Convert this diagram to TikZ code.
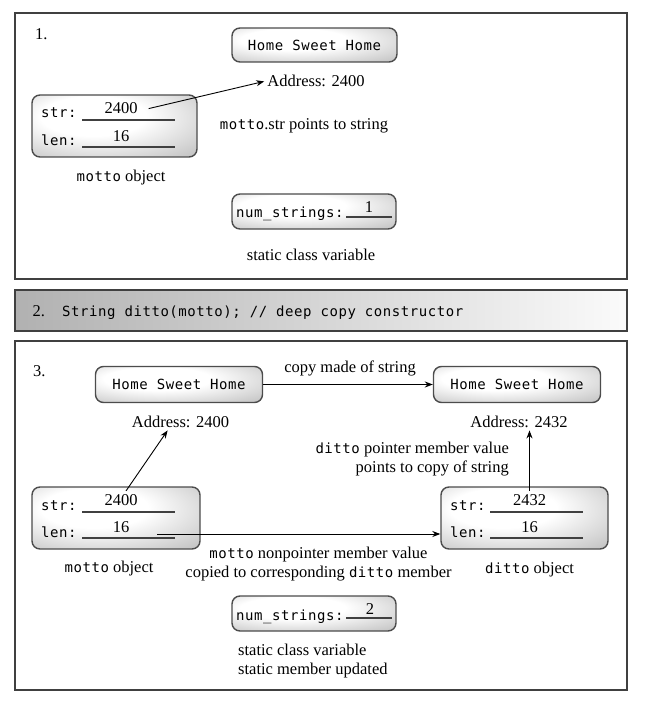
\documentclass[tikz,border=0pt]{standalone}
\usepackage{fontspec}
\setmainfont{Liberation Serif}
\newfontfamily\monofam[LetterSpace=4]{DejaVu Sans Mono}
\newcommand\txtfont{\fontsize{16.5}{19}\selectfont}
\newcommand\codefont{\monofam\fontsize{14}{16}\selectfont}
\usetikzlibrary{arrows.meta}
\pgfdeclarehorizontalshading{barshade}{100bp}{color(0bp)=(black!45); color(78bp)=(white); color(100bp)=(black!35)}
\pgfdeclareradialshading{cellshade}{\pgfpoint{-8bp}{10bp}}{color(0bp)=(white); color(16bp)=(white); color(42bp)=(black!25); color(58bp)=(black!42); color(80bp)=(black!55)}
\tikzset{
  panel/.style={draw=black!75, line width=2pt},
  cell/.style={draw=black!70, line width=1.4pt, rounded corners=8pt, shade, shading=cellshade, inner sep=0pt},
  txt/.style={font=\txtfont, inner sep=3pt},
  code/.style={font=\codefont, inner sep=3pt},
  blank/.style={draw=black!75, line width=1.3pt},
  ptr/.style={-{Stealth[length=8pt,width=6pt]}, line width=0.9pt},
}

\begin{document}
\begin{tikzpicture}[x=1pt, y=-1pt]
\useasboundingbox (0,0) rectangle (645,703);
\draw[panel] (15,13) rectangle (627,279);
\node[txt, anchor=base west] (one) at (32,40) {1.};
\node[cell, code, minimum width=165pt, minimum height=34pt] (home1) at (314.5,45) {Home Sweet Home};
\node[txt, anchor=base] (addr1) at (316,87) {Address: 2400};
\node[cell, minimum width=165pt, minimum height=62pt] (motto1) at (114.5,126) {};
\node[code, anchor=base west] (m1strlbl) at (38,118) {str:};
\draw[blank] (82,120) -- (175,120);
\node[txt, anchor=base] (m1str) at (121,114) {2400};
\node[code, anchor=base west] (m1lenlbl) at (38,146) {len:};
\draw[blank] (82,147) -- (175,147);
\node[txt, anchor=base] (m1len) at (121,142) {16};
\draw[ptr] ([xshift=8pt]m1str.east) -- (addr1.west);
\node[txt, anchor=base] (pointsto) at (304,130) {{\codefont motto}.str points to string};
\node[txt, anchor=base] (motto1lbl) at (121,182) {{\codefont motto} object};
\node[cell, minimum width=164pt, minimum height=35pt] (num1) at (314,211.5) {};
\node[code, anchor=base west] (num1lbl) at (233,218) {num\_strings:};
\draw[blank] (346,217) -- (392,217);
\node[txt, anchor=base] (num1val) at (369,212) {1};
\node[txt, anchor=base] (static1) at (311,260) {static class variable};

\draw[panel, shade, shading=barshade] (15,290) rectangle (627,331);
\node[txt, anchor=base west] (two) at (29.5,316) {2.};
\node[code, anchor=base west] (ctor) at (59,316) {String ditto(motto); // deep copy constructor};

\draw[panel] (15,341) rectangle (627,690);
\node[txt, anchor=base west] (three) at (30,376) {3.};
\node[cell, code, minimum width=167pt, minimum height=36pt] (home2) at (179,384.5) {Home Sweet Home};
\node[cell, code, minimum width=167pt, minimum height=36pt] (home3) at (517,384.5) {Home Sweet Home};
\draw[ptr] (home2.east) -- (home3.west);
\node[txt, anchor=base] (copylbl) at (350,372) {copy made of string};
\node[txt, anchor=base] (addr2) at (180.5,427) {Address: 2400};
\node[txt, anchor=base] (addr3) at (519,427) {Address: 2432};
\node[cell, minimum width=168pt, minimum height=62pt] (motto3) at (116,518) {};
\node[code, anchor=base west] (m3strlbl) at (38,510) {str:};
\draw[blank] (82,512) -- (175,512);
\node[txt, anchor=base] (m3str) at (121,505) {2400};
\node[code, anchor=base west] (m3lenlbl) at (38,537) {len:};
\draw[blank] (82,538) -- (175,538);
\node[txt, anchor=base] (m3len) at (121,532) {16};
\draw[ptr] (m3str.60) -- (addr2.215);
\node[cell, minimum width=167pt, minimum height=62pt] (ditto3) at (524.5,518) {};
\node[code, anchor=base west] (d3strlbl) at (447,510) {str:};
\draw[blank] (490,512) -- (583,512);
\node[txt, anchor=base] (d3str) at (529.5,505) {2432};
\node[code, anchor=base west] (d3lenlbl) at (447,537) {len:};
\draw[blank] (490,538) -- (583,538);
\node[txt, anchor=base] (d3len) at (529.5,532) {16};
\draw[ptr] (d3str.north) -- (d3str.north |- addr3.south);
\node[txt, anchor=north east, align=right] (dittoptr) at (512,438.5) {{\codefont ditto} pointer member value\\points to copy of string};
\coordinate (lenout) at (157,534);
\draw[ptr] (lenout) -- (lenout -| ditto3.west);
\node[txt, anchor=north, align=center] (copied) at (318.5,543.5) {{\codefont motto} nonpointer member value\\copied to corresponding {\codefont ditto} member};
\node[txt, anchor=base] (motto3lbl) at (109,572) {{\codefont motto} object};
\node[txt, anchor=base] (ditto3lbl) at (529.5,573) {{\codefont ditto} object};
\node[cell, minimum width=164pt, minimum height=35pt] (num3) at (314,613.5) {};
\node[code, anchor=base west] (num3lbl) at (233,620) {num\_strings:};
\draw[blank] (346,618) -- (392,618);
\node[txt, anchor=base] (num3val) at (370,614) {2};
\node[txt, anchor=north west, align=left] (static3) at (235,640.5) {static class variable\\static member updated};
\end{tikzpicture}
\end{document}
